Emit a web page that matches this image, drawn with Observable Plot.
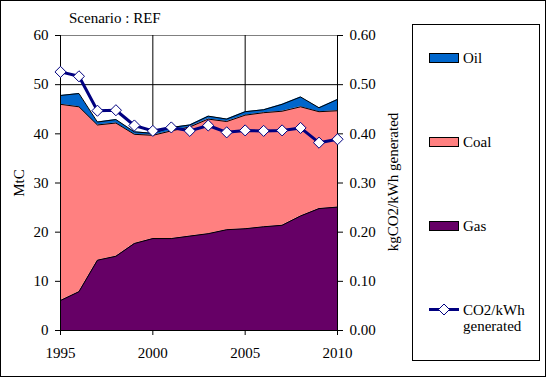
<!DOCTYPE html>
<html><head><meta charset="utf-8">
<script src="https://cdn.jsdelivr.net/npm/d3@7"></script>
<script src="https://cdn.jsdelivr.net/npm/@observablehq/plot@0.6"></script>
<style>
body{margin:0;background:#fff;}
#wrap{position:relative;width:549px;height:378px;overflow:hidden;font-family:"Liberation Serif","Times New Roman",serif;}
#frame{position:absolute;left:0;top:0;width:544px;height:375px;border:1px solid #000;}
#chart{position:absolute;left:0;top:0;}
#over{position:absolute;left:0;top:0;pointer-events:none;}
</style></head>
<body>
<div id="wrap"><div id="frame"></div><div id="chart"></div>
<svg id="over" width="549" height="378" font-family="Liberation Serif, Times New Roman, serif" font-size="15" fill="#000">
  <text x="69" y="23">Scenario : REF</text>
  <text transform="translate(19,183) rotate(-90)" text-anchor="middle" dy="0.35em">MtC</text>
  <text transform="translate(393,182) rotate(-90)" text-anchor="middle" dy="0.35em">kgCO2/kWh generated</text>
  <rect x="412.5" y="24.5" width="127" height="336" fill="none" stroke="#000"/>
  <g id="legend"></g>
</svg>
</div>
<script>
const years = [1995,1996,1997,1998,1999,2000,2001,2002,2003,2004,2005,2006,2007,2008,2009,2010];
const gas  = [6.1,7.9,14.3,15.1,17.7,18.7,18.7,19.2,19.7,20.5,20.7,21.1,21.4,23.3,24.8,25.1];
const coal = [39.9,37.6,27.5,27.1,22.2,21.0,21.9,22.2,23.3,22.0,23.1,23.2,23.2,22.2,19.7,19.6];
const oil  = [1.8,2.7,0.6,0.7,0.5,0.4,0.7,0.4,0.6,0.5,0.7,0.6,1.4,2.0,0.8,2.3];
const co2PerKWh = [0.526,0.517,0.447,0.448,0.417,0.406,0.413,0.406,0.417,0.403,0.407,0.406,0.407,0.412,0.382,0.389];
const sources = ["Oil","Coal","Gas"];
const colors = ["#0066CC","#FF8080","#660066"];
const leftTicks = [0,10,20,30,40,50,60];
const rightTicks = [0,0.1,0.2,0.3,0.4,0.5,0.6];
const xTicks = [1995,2000,2005,2010];

const rows = [];
years.forEach((yr,i)=>{
  rows.push({year:yr, source:"Gas", value:gas[i]});
  rows.push({year:yr, source:"Coal", value:coal[i]});
  rows.push({year:yr, source:"Oil", value:oil[i]});
});
const co2Rows = years.map((yr,i)=>({year:yr, v:co2PerKWh[i]}));
const stackOpts = {x:"year", y:"value", z:"source", order:["Gas","Coal","Oil"]};
const R = 100; // right axis 0..0.6 mapped onto 0..60

const chart = Plot.plot({
  width:549, height:378,
  marginLeft:60, marginRight:212, marginTop:35, marginBottom:48,
  style:{fontFamily:"Liberation Serif, Times New Roman, serif", fontSize:"15px", color:"#000", background:"transparent", overflow:"visible"},
  x:{domain:[1995,2010]},
  y:{domain:[0,60]},
  color:{domain:sources, range:colors},
  marks:[
    Plot.ruleY([60], {stroke:"#808080"}),
    Plot.ruleY([50], {stroke:"#000"}),
    Plot.ruleX([2000,2005], {stroke:"#000"}),
    Plot.areaY(rows, {...stackOpts, fill:"source"}),
    Plot.lineY(rows, Plot.stackY2({...stackOpts, stroke:"#000", strokeWidth:1})),
    Plot.ruleX([1995,2010], {stroke:"#000"}),
    Plot.ruleY([0], {stroke:"#000"}),
    Plot.axisY({ticks:leftTicks, tickFormat:d=>String(d), tickSize:5, tickPadding:7, label:null, strokeOpacity:1}),
    Plot.axisY({anchor:"right", ticks:rightTicks.map(v=>v*R), tickFormat:d=>(d/R).toFixed(2), tickSize:5, tickPadding:7, label:null, strokeOpacity:1}),
    Plot.axisX({ticks:xTicks, tickFormat:d=>String(d), tickSize:5, tickPadding:12, label:null, strokeOpacity:1}),
    Plot.line(co2Rows, {x:"year", y:d=>d.v*R, stroke:"#000080", strokeWidth:3}),
    Plot.dot(co2Rows, {x:"year", y:d=>d.v*R, symbol:"diamond2", r:5, fill:"#fff", stroke:"#000080", strokeWidth:1})
  ]
});
document.getElementById("chart").appendChild(chart);

// legend
const ns = "http://www.w3.org/2000/svg";
const lg = document.getElementById("legend");
function el(tag, attrs, text){ const e=document.createElementNS(ns,tag); for(const k in attrs) e.setAttribute(k,attrs[k]); if(text) e.textContent=text; lg.appendChild(e); return e; }
const legendY = {"Oil":53, "Coal":137, "Gas":221};
sources.forEach((s,i)=>{
  const y = legendY[s];
  el("rect",{x:429.5,y:y+0.5,width:29,height:9,fill:colors[i],stroke:"#000"});
  el("text",{x:463,y:y+10},s);
});
el("line",{x1:429,x2:459,y1:309.5,y2:309.5,stroke:"#000080","stroke-width":3});
el("path",{d:"M444,304 L449.5,309.5 L444,315 L438.5,309.5 Z",fill:"#fff",stroke:"#000080"});
el("text",{x:463,y:315},"CO2/kWh");
el("text",{x:463,y:331},"generated");
</script>
</body></html>
